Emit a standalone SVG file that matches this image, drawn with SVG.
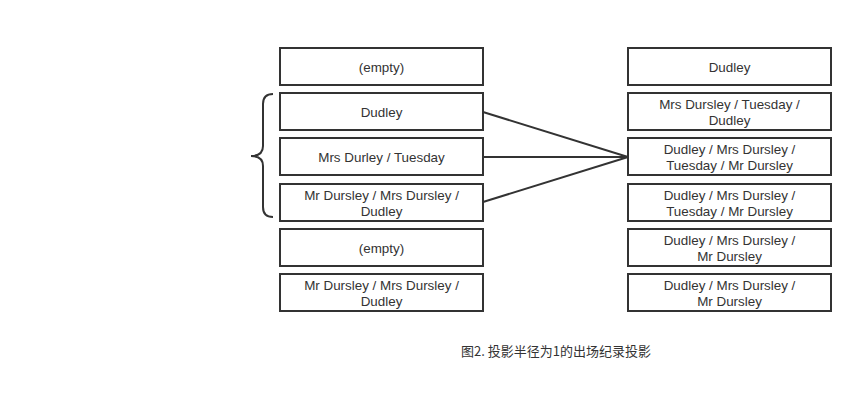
<svg xmlns="http://www.w3.org/2000/svg" width="863" height="401" viewBox="0 0 863 401">
<style>
.box{fill:#fff;stroke:#333;stroke-width:2}
.t{font-family:"Liberation Sans","Noto Sans CJK SC",sans-serif;font-size:13.4px;fill:#333;text-anchor:middle}
.c{fill:none;stroke:#333;stroke-width:2}
.cap{font-family:"Noto Sans CJK SC","Liberation Sans",sans-serif;font-size:13px;fill:#333}
</style>
<rect width="863" height="401" fill="#fff"/>
<g id="L1"><rect class="box" x="280" y="48" width="203" height="37"/><text class="t" x="381.5" y="71.5">(empty)</text></g>
<g id="L2"><rect class="box" x="280" y="93" width="203" height="37"/><text class="t" x="381.5" y="116.5">Dudley</text></g>
<g id="L3"><rect class="box" x="280" y="138" width="203" height="37"/><text class="t" x="381.5" y="161.5">Mrs Durley / Tuesday</text></g>
<g id="L4"><rect class="box" x="280" y="184" width="203" height="37"/><text class="t" x="381.5" y="199.5">Mr Dursley / Mrs Dursley /</text><text class="t" x="381.5" y="215.5">Dudley</text></g>
<g id="L5"><rect class="box" x="280" y="229" width="203" height="37"/><text class="t" x="381.5" y="252.5">(empty)</text></g>
<g id="L6"><rect class="box" x="280" y="274" width="203" height="37"/><text class="t" x="381.5" y="289.5">Mr Dursley / Mrs Dursley /</text><text class="t" x="381.5" y="305.5">Dudley</text></g>
<g id="R1"><rect class="box" x="628" y="48" width="203" height="37"/><text class="t" x="729.5" y="71.5">Dudley</text></g>
<g id="R2"><rect class="box" x="628" y="93" width="203" height="37"/><text class="t" x="729.5" y="108.5">Mrs Dursley / Tuesday /</text><text class="t" x="729.5" y="124.5">Dudley</text></g>
<g id="R3"><rect class="box" x="628" y="138" width="203" height="37"/><text class="t" x="729.5" y="153.5">Dudley / Mrs Dursley /</text><text class="t" x="729.5" y="169.5">Tuesday / Mr Dursley</text></g>
<g id="R4"><rect class="box" x="628" y="184" width="203" height="37"/><text class="t" x="729.5" y="199.5">Dudley / Mrs Dursley /</text><text class="t" x="729.5" y="215.5">Tuesday / Mr Dursley</text></g>
<g id="R5"><rect class="box" x="628" y="229" width="203" height="37"/><text class="t" x="729.5" y="244.5">Dudley / Mrs Dursley /</text><text class="t" x="729.5" y="260.5">Mr Dursley</text></g>
<g id="R6"><rect class="box" x="628" y="274" width="203" height="37"/><text class="t" x="729.5" y="289.5">Dudley / Mrs Dursley /</text><text class="t" x="729.5" y="305.5">Mr Dursley</text></g>
<g id="connectors">
<path class="c" d="M483,112 L628,157"/>
<path class="c" d="M483,157 L628,157"/>
<path class="c" d="M483,202 L628,157"/>
<path class="c" d="M273,94 Q263,94 263,104 L263,146 Q263,156 251,156 Q263,156 263,166 L263,207 Q263,217 273,217"/>
</g>
<text class="cap" x="461" y="356">图2. 投影半径为1的出场纪录投影</text>
</svg>
